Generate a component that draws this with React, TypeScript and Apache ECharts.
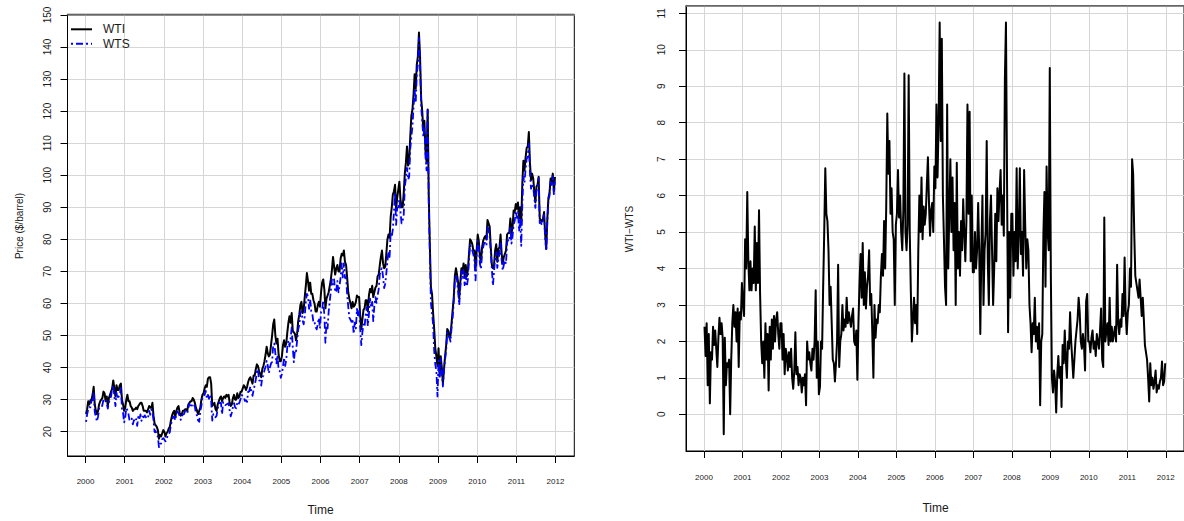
import React, { useEffect, useRef } from "react";
import * as echarts from "echarts";

// ---- Data: WTI spot price, ~3 readings per month (early / mid / late), per year ----
const wti2000 = [25.5,27.0,29.5, 28.5,29.8,30.0, 31.5,34.0,28.5, 26.5,25.5,26.5, 28.5,29.5,30.0, 30.5,32.5,32.0, 29.5,31.0,28.0, 30.5,31.5,32.5, 33.5,36.0,33.5, 31.0,34.5,33.0, 33.0,34.5,35.0, 30.0,28.5,26.5];
const wti2001 = [27.5,30.0,31.5, 29.5,29.5,28.0, 27.5,26.5,27.0, 27.0,27.5,27.0, 28.0,28.5,29.0, 29.0,28.0,26.5, 26.5,26.5,26.0, 27.0,28.0,27.5, 27.5,29.0,25.0, 22.5,22.0,21.5, 20.5,17.8,19.0, 18.5,19.5,20.5];
const wti2002 = [20.0,18.5,19.5, 20.0,21.0,21.5, 23.5,25.0,26.0, 26.5,24.5,26.5, 27.5,28.0,26.0, 25.0,25.5,26.5, 26.5,27.0,27.0, 26.5,28.5,29.0, 29.5,29.5,30.5, 30.0,29.0,27.5, 26.5,25.5,26.5, 27.5,30.0,31.5];
const wti2003 = [32.0,33.5,34.5, 34.0,36.5,37.0, 37.0,35.0,28.0, 28.5,29.0,27.0, 26.5,28.5,29.5, 30.5,31.0,29.5, 30.5,31.0,30.5, 31.5,31.0,31.5, 29.0,28.0,28.5, 30.5,31.5,30.0, 30.0,32.0,30.5, 31.0,32.5,32.5];
const wti2004 = [33.5,34.5,34.0, 33.0,34.0,35.5, 36.5,37.0,36.0, 35.0,37.5,37.5, 39.5,41.0,40.5, 39.0,38.0,37.0, 39.5,40.5,42.0, 44.0,46.5,44.5, 43.5,44.0,47.0, 50.0,53.5,55.0, 50.0,47.5,49.0, 44.0,42.0,42.0];
const wti2005 = [43.5,47.0,48.5, 46.5,47.5,51.0, 54.0,56.0,54.0, 57.0,51.5,51.0, 50.5,48.5,50.5, 54.5,56.5,59.5, 60.5,57.0,58.0, 62.0,65.5,69.5, 67.0,64.0,66.5, 63.0,63.0,61.0, 60.0,57.5,57.5, 59.5,60.5,59.0];
const wti2006 = [63.5,66.5,67.5, 64.5,58.5,61.5, 62.5,63.5,65.5, 67.5,70.5,74.5, 71.5,69.0,71.0, 72.0,70.0,70.0, 74.0,75.5,75.0, 76.5,73.0,72.0, 68.0,63.5,61.5, 60.0,58.5,60.5, 59.0,59.5,60.5, 62.5,62.0,62.0];
const wti2007 = [56.0,52.0,55.0, 58.0,58.5,61.0, 61.0,57.5,62.5, 64.5,63.5,65.5, 62.0,63.5,65.0, 65.5,68.5,69.0, 72.0,74.5,76.5, 72.5,71.0,71.5, 75.5,80.0,81.5, 80.5,87.0,90.0, 94.0,95.0,97.0, 89.5,93.0,95.5];
const wti2008 = [98.0,92.5,90.0, 90.0,94.5,100.5, 104.0,109.0,103.0, 104.5,112.0,118.5, 120.5,125.0,131.5, 127.0,134.5,137.0, 144.5,137.0,124.0, 120.0,114.0,117.0, 107.5,104.0,120.5, 93.5,78.0,65.0, 63.0,57.0,52.0, 46.0,43.5,40.5];
const wti2009 = [46.0,37.5,43.5, 40.0,35.0,39.5, 43.5,47.0,52.0, 51.5,49.5,50.0, 54.0,58.0,62.0, 68.5,71.0,69.0, 66.5,61.5,66.5, 71.0,69.5,72.5, 68.0,72.0,68.5, 70.5,75.5,80.0, 79.5,78.5,76.5, 76.5,70.5,76.5];
const wti2010 = [81.5,79.5,74.5, 73.0,77.5,79.5, 80.5,81.0,80.0, 86.0,85.0,84.0, 77.5,72.0,71.0, 72.0,76.5,78.5, 73.0,77.0,77.5, 81.5,75.5,72.5, 74.5,75.5,76.5, 81.5,82.0,82.0, 86.5,82.0,83.5, 89.0,88.5,91.0];
const wti2011 = [89.5,91.5,86.5, 90.0,85.0,97.5, 104.5,101.5,105.5, 108.5,109.0,113.5, 104.0,98.5,100.5, 99.0,95.0,91.5, 96.5,97.0,99.5, 86.5,86.0,85.5, 86.5,88.5,81.5, 77.0,86.5,93.0, 94.5,99.0,98.0, 100.5,95.0,99.5];

// ---- Data: WTI - WTS spread, same sampling ----
const sp2000 = [2.4,1.6,2.5,0.8,2.2,0.3,1.7,1.5,2.4,1.9,2.3,1.8,1.3,2.1,2.65,2.2,2.5,2.1,-0.55,2.1,0.8,1.4,1.3,1.5,0.0,1.5,2.5,3.0,2.4,2.8,2.0,2.9,1.3,2.8,2.6,3.6];
const sp2001 = [3.0,2.7,4.8,4.0,6.1,4.2,3.4,4.2,3.4,4.0,3.6,5.15,3.4,4.7,3.6,5.6,3.3,2.0,1.4,2.0,1.0,2.5,1.5,2.2,0.65,2.4,1.5,2.6,1.8,2.7,2.0,2.6,2.8,2.2,1.8,2.5];
const sp2002 = [2.5,1.5,2.2,1.1,1.8,1.6,1.2,1.7,1.3,1.8,1.0,0.7,1.2,2.25,1.1,1.3,0.8,1.1,1.0,0.6,1.0,0.8,1.1,0.25,2.0,1.5,1.7,1.4,1.2,1.8,1.5,2.0,3.4,1.0,2.0,0.55];
const sp2003 = [0.75,2.0,1.8,3.5,5.0,6.75,5.5,5.3,4.5,3.0,3.5,2.5,1.5,1.4,0.9,1.4,2.0,4.1,1.3,2.0,2.2,3.0,2.3,2.6,2.4,3.2,2.5,2.8,2.6,2.4,2.7,2.9,2.0,1.9,2.3,0.95];
const sp2004 = [2.5,3.6,4.4,3.2,4.7,3.0,3.9,2.9,3.5,3.8,4.5,3.0,3.3,2.2,1.0,3.0,2.1,2.6,2.5,3.0,2.8,3.8,4.4,3.8,5.3,4.0,5.7,8.25,6.6,7.5,5.5,6.2,5.0,4.8,3.0,5.2];
const sp2005 = [5.5,6.7,5.4,6.0,5.0,4.5,5.6,9.35,5.0,4.5,5.2,9.3,5.0,3.4,2.0,2.6,3.2,2.5,3.0,2.2,4.5,6.0,5.0,6.5,4.8,5.7,5.2,5.5,6.3,7.05,5.8,4.9,5.6,5.8,5.0,6.8];
const sp2006 = [6.2,8.5,6.5,8.0,10.75,7.5,10.3,6.0,4.8,3.5,3.0,8.5,4.0,5.5,7.0,5.0,6.5,4.5,5.8,3.0,6.9,4.0,5.0,3.8,5.3,4.5,5.9,5.0,4.2,5.3,8.5,5.5,8.3,4.2,6.0,3.9];
const sp2007 = [3.9,5.0,4.0,4.5,5.8,4.5,2.2,4.5,6.0,3.0,4.5,5.0,7.5,4.2,3.0,5.3,6.0,4.5,3.0,4.0,5.5,4.2,6.2,5.3,6.1,6.7,5.2,6.0,4.9,9.2,10.75,6.5,2.25,5.0,3.2,5.5];
const sp2008 = [5.5,3.8,5.0,4.2,6.75,4.0,5.0,6.75,4.4,5.0,3.8,6.7,5.2,4.0,4.8,4.5,3.0,2.5,1.7,2.5,2.2,3.2,2.0,2.4,1.8,2.5,0.25,2.0,2.2,4.9,6.1,3.5,6.8,5.0,4.5,9.5];
const sp2009 = [3.8,1.0,0.6,1.2,0.9,0.05,1.1,1.6,1.0,1.3,0.2,1.9,1.4,2.3,1.5,1.0,2.0,1.8,2.8,2.0,1.5,1.0,1.5,2.0,2.3,2.6,3.2,2.8,2.0,1.8,2.2,1.9,1.2,3.1,3.3,2.0];
const sp2010 = [2.0,1.7,2.1,2.3,1.8,2.0,1.6,2.2,2.0,1.8,2.3,2.9,1.5,1.3,5.4,2.0,2.3,2.5,1.9,3.2,2.0,2.4,2.0,2.2,2.4,2.0,4.1,2.5,2.2,2.6,2.4,3.3,2.7,4.3,2.8,2.2];
const sp2011 = [2.8,3.0,4.0,3.5,7.0,6.6,5.0,3.8,3.6,3.4,3.2,3.7,3.2,2.7,3.2,2.6,1.9,1.7,1.5,1.0,0.35,1.4,0.8,1.0,0.7,0.9,1.2,0.6,0.8,0.7,0.9,1.0,1.45,0.8,0.9,1.4];

const wtiAll = [...wti2000, ...wti2001, ...wti2002, ...wti2003, ...wti2004, ...wti2005, ...wti2006, ...wti2007, ...wti2008, ...wti2009, ...wti2010, ...wti2011];
const spreadAll = [...sp2000, ...sp2001, ...sp2002, ...sp2003, ...sp2004, ...sp2005, ...sp2006, ...sp2007, ...sp2008, ...sp2009, ...sp2010, ...sp2011];
const STEPS_PER_YEAR = 36;
const START_YEAR = 2000;

// ---- Tick labels ----
const yearTicks = [2000, 2001, 2002, 2003, 2004, 2005, 2006, 2007, 2008, 2009, 2010, 2011, 2012];
const priceTicks = [20, 30, 40, 50, 60, 70, 80, 90, 100, 110, 120, 130, 140, 150];
const spreadTicks = [0, 1, 2, 3, 4, 5, 6, 7, 8, 9, 10, 11];

const FONT = "'Liberation Sans', Arial, Helvetica, sans-serif";
const TXT = "#1a1a1a";
const GRIDC = "#d6d6d6";

const timeOf = (i: number) => START_YEAR + (i + 0.5) / STEPS_PER_YEAR;
const wtiData = wtiAll.map((v, i) => [timeOf(i), v]);
const wtsData = wtiAll.map((v, i) => [timeOf(i), Math.round((v - spreadAll[i]) * 100) / 100]);
const spreadData = spreadAll.map((v, i) => [timeOf(i), v]);

function bottomAxis(gridIndex: number, min: number, max: number, margin: number) {
  return {
    type: "value",
    gridIndex,
    position: "bottom",
    min,
    max,
    axisLine: { show: true, onZero: false, lineStyle: { color: "#000", width: 1 } },
    axisTick: { show: true, length: 7, customValues: yearTicks, lineStyle: { color: "#000", width: 1 } },
    axisLabel: {
      customValues: yearTicks,
      fontSize: 8,
      margin,
      color: TXT,
      fontFamily: FONT,
      formatter: (v: number) => String(Math.round(v)),
    },
    splitLine: { show: true, lineStyle: { color: GRIDC, width: 1 } },
  };
}

function topAxis(gridIndex: number, min: number, max: number) {
  return {
    type: "value",
    gridIndex,
    position: "top",
    min,
    max,
    axisLine: { show: true, onZero: false, lineStyle: { color: "#777", width: 1.6 } },
    axisTick: { show: false },
    axisLabel: { show: false },
    splitLine: { show: false },
  };
}

function leftAxis(gridIndex: number, min: number, max: number, ticks: number[], margin: number) {
  return {
    type: "value",
    gridIndex,
    position: "left",
    min,
    max,
    axisLine: { show: true, onZero: false, lineStyle: { color: "#000", width: 1 } },
    axisTick: { show: true, length: 7, customValues: ticks, lineStyle: { color: "#000", width: 1 } },
    axisLabel: {
      customValues: ticks,
      rotate: 90,
      fontSize: 10,
      margin,
      color: TXT,
      fontFamily: FONT,
      formatter: (v: number) => String(Math.round(v)),
    },
    splitLine: { show: true, lineStyle: { color: GRIDC, width: 1 } },
  };
}

export default function App() {
  const ref = useRef<HTMLDivElement>(null);

  useEffect(() => {
    if (!ref.current) return;
    const chart = echarts.init(ref.current, undefined, { renderer: "svg" });
    const option: any = {
      animation: false,
      backgroundColor: "#ffffff",
      textStyle: { fontFamily: FONT },
      grid: [
        { left: 67.5, top: 14.3, width: 506.8, height: 441.7, show: true, borderColor: "#000", borderWidth: 1, containLabel: false },
        { left: 686, top: 5.7, width: 499, height: 445.3, show: true, borderColor: "#000", borderWidth: 1, containLabel: false },
      ],
      xAxis: [
        bottomAxis(0, 1999.54, 2012.48, 21),
        topAxis(0, 1999.54, 2012.48),
        bottomAxis(1, 1999.533, 2012.474, 22),
        topAxis(1, 1999.533, 2012.474),
      ],
      yAxis: [
        leftAxis(0, 12.42, 150.2, priceTicks, 15),
        leftAxis(1, -1.007, 11.21, spreadTicks, 20),
      ],
      legend: {
        data: ["WTI", "WTS"],
        left: 70,
        top: 23.3,
        orient: "vertical",
        itemWidth: 21,
        itemHeight: 12,
        itemGap: 2.4,
        padding: 0,
        selectedMode: false,
        itemStyle: { opacity: 0, borderWidth: 0 },
        textStyle: { fontSize: 12, color: TXT, fontFamily: FONT, padding: [0, 0, 0, 6] },
      },
      series: [
        {
          name: "WTI",
          type: "line",
          xAxisIndex: 0,
          yAxisIndex: 0,
          data: wtiData,
          symbol: "none",
          color: "#000000",
          lineStyle: { color: "#000000", width: 2, join: "round" },
          z: 3,
        },
        {
          name: "WTS",
          type: "line",
          xAxisIndex: 0,
          yAxisIndex: 0,
          data: wtsData,
          symbol: "none",
          color: "#0000ff",
          lineStyle: { color: "#0000ff", width: 1.8, type: [2, 3, 7, 3], join: "round" },
          z: 4,
        },
        {
          name: "WTI-WTS",
          type: "line",
          xAxisIndex: 2,
          yAxisIndex: 1,
          data: spreadData,
          symbol: "none",
          color: "#000000",
          lineStyle: { color: "#000000", width: 2, join: "round" },
          z: 3,
        },
      ],
      graphic: [
        {
          type: "text",
          x: 19,
          y: 226,
          rotation: Math.PI / 2,
          style: { text: "Price ($/barrel)", fontSize: 10, fontFamily: FONT, fill: TXT, textAlign: "center", textVerticalAlign: "middle", align: "center", verticalAlign: "middle" },
        },
        {
          type: "text",
          x: 629.5,
          y: 229,
          rotation: Math.PI / 2,
          style: { text: "WTI\u2212WTS", fontSize: 10, fontFamily: FONT, fill: TXT, textAlign: "center", textVerticalAlign: "middle", align: "center", verticalAlign: "middle" },
        },
        {
          type: "text",
          x: 320.5,
          y: 509.5,
          style: { text: "Time", fontSize: 12, fontFamily: FONT, fill: TXT, textAlign: "center", textVerticalAlign: "middle", align: "center", verticalAlign: "middle" },
        },
        {
          type: "text",
          x: 935.5,
          y: 508,
          style: { text: "Time", fontSize: 12, fontFamily: FONT, fill: TXT, textAlign: "center", textVerticalAlign: "middle", align: "center", verticalAlign: "middle" },
        },
      ],
    };
    chart.setOption(option);
    return () => chart.dispose();
  }, []);

  return (
    <div
      ref={ref}
      style={{ position: "fixed", left: 0, top: 0, width: 1184, height: 521, background: "#fff", overflow: "hidden" }}
    />
  );
}
